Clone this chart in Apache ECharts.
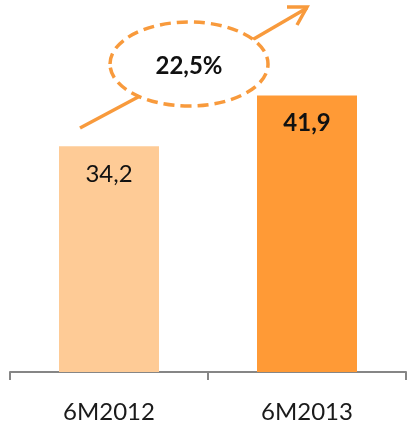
<!DOCTYPE html>
<html>
<head>
<meta charset="utf-8">
<script src="https://cdn.jsdelivr.net/npm/echarts@6/dist/echarts.min.js"></script>
<style>
  html, body { margin: 0; padding: 0; background: #fff; }
  #main { width: 410px; height: 429px; }
</style>
</head>
<body>
<div id="main"></div>
<script>
// data
var categories = ['6M2012', '6M2013'];
var values = [34.2, 41.9];
var barColors = ['#FECB96', '#FF9A36'];

function fmt(v, d) {
    return v.toFixed(d).replace('.', ',');
}
var growth = (values[1] / values[0] - 1) * 100;

var myChart = echarts.init(document.getElementById('main'));
var orange = '#F89A3C';
var font = 'Lato, "Open Sans", sans-serif';

var option = {
    animation: false,
    grid: { left: 10, right: 4, top: 42, bottom: 57 },
    xAxis: {
        type: 'category',
        data: categories,
        axisLine: { lineStyle: { color: '#868686', width: 2 } },
        axisTick: { show: true, alignWithLabel: false, length: 8, lineStyle: { color: '#868686', width: 2 } },
        axisLabel: { margin: 28, fontSize: 24, color: '#1a1a1a', fontFamily: font }
    },
    yAxis: {
        type: 'value',
        min: 0,
        max: 50,
        show: false
    },
    series: [{
        type: 'bar',
        barWidth: 100,
        data: values.map(function (v, i) {
            return {
                value: v,
                itemStyle: { color: barColors[i] },
                label: { fontWeight: i === 1 ? 'bold' : 'normal' }
            };
        }),
        label: {
            show: true,
            position: 'insideTop',
            distance: 16,
            fontSize: 24,
            color: '#111',
            fontFamily: font,
            formatter: function (p) { return fmt(p.value, 1); }
        }
    }],
    graphic: [
        // arrow lower part
        { type: 'line', shape: { x1: 80, y1: 128, x2: 140, y2: 96 },
          style: { stroke: orange, lineWidth: 3.5 } },
        // arrow upper part
        { type: 'line', shape: { x1: 252, y1: 40, x2: 307, y2: 8 },
          style: { stroke: orange, lineWidth: 3.5 } },
        { type: 'polyline', shape: { points: [[287, 7], [307, 7], [297, 25]] },
          style: { stroke: orange, lineWidth: 3.5, fill: null } },
        // dashed ellipse
        { type: 'ellipse', shape: { cx: 189, cy: 64, rx: 79, ry: 42 },
          style: { stroke: orange, lineWidth: 3.5, fill: '#fff', lineDash: [11, 6] } },
        { type: 'text', x: 189, y: 66,
          style: { text: fmt(growth, 1) + '%', fill: '#111', font: 'bold 24px ' + font,
                   align: 'center', verticalAlign: 'middle' } }
    ]
};

myChart.setOption(option);
</script>
</body>
</html>
